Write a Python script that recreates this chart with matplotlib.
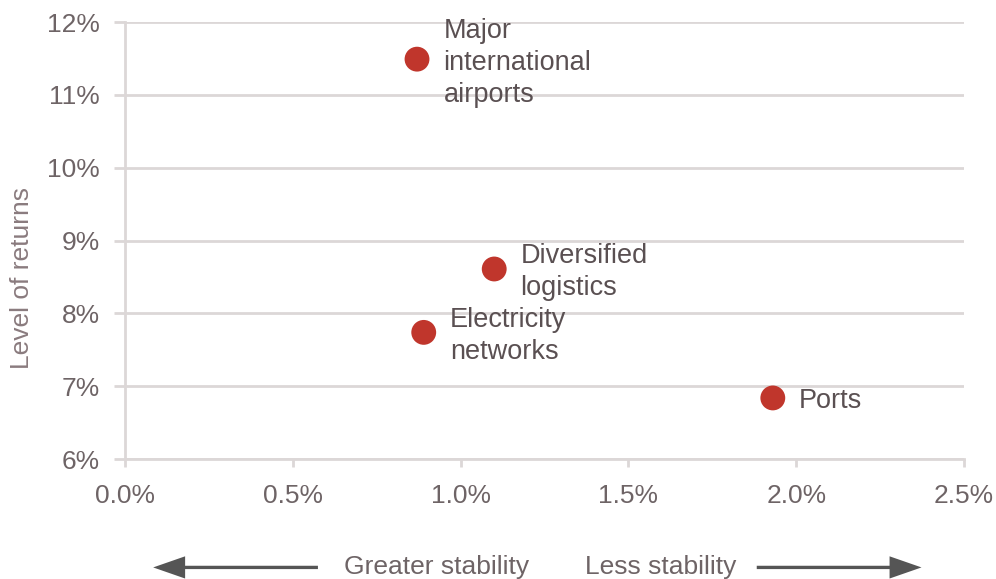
import matplotlib.pyplot as plt
from matplotlib.patches import FancyArrowPatch
from matplotlib.ticker import FuncFormatter

# Datos
sectores = ['Major\ninternational\nairports', 'Diversified\nlogistics', 'Electricity\nnetworks', 'Ports']
volatilidad = [0.87, 1.10, 0.89, 1.93]   # % (eje x)
retornos = [11.49, 8.61, 7.74, 6.84]     # % (eje y)

x_ticks = [0.0, 0.5, 1.0, 1.5, 2.0, 2.5]
y_ticks = [6, 7, 8, 9, 10, 11, 12]

plt.rcParams['font.family'] = ['Liberation Sans', 'DejaVu Sans']
color_texto = '#6e6466'
color_linea = '#dcd7d7'
color_punto = '#c0362c'

fig = plt.figure(figsize=(9.96, 5.79), dpi=100)
ax = fig.add_axes([0.1255, 0.207, 0.8425, 0.755])

ax.scatter(volatilidad, retornos, s=320, color=color_punto, zorder=3, edgecolors='none')

for nombre, x, y in zip(sectores, volatilidad, retornos):
    ax.annotate(nombre, (x, y), xytext=(19, -2.5), textcoords='offset points',
                ha='left', va='center', fontsize=19.5, color='#5a5052',
                linespacing=1.3, zorder=4)

ax.set_xlim(0, 2.5)
ax.set_ylim(6, 12)
ax.set_xticks(x_ticks)
ax.set_yticks(y_ticks)
ax.xaxis.set_major_formatter(FuncFormatter(lambda v, p: f'{v:.1f}%'))
ax.yaxis.set_major_formatter(FuncFormatter(lambda v, p: f'{v:.0f}%'))
ax.tick_params(axis='both', labelsize=19, labelcolor=color_texto, color=color_linea, width=2)
ax.tick_params(axis='y', length=8, pad=10)
ax.tick_params(axis='x', length=6, pad=12)

ax.grid(axis='y', color=color_linea, linewidth=2)
ax.set_axisbelow(True)
for lado in ['top', 'right']:
    ax.spines[lado].set_visible(False)
for lado in ['left', 'bottom']:
    ax.spines[lado].set_color(color_linea)
    ax.spines[lado].set_linewidth(2)

fig.text(0.022, 0.52, 'Level of returns', rotation=90, ha='center', va='center',
         fontsize=19, color='#8a7b7e')

# Flechas de estabilidad
fig.text(0.345, 0.02, 'Greater stability', ha='left', va='center', fontsize=19, color=color_texto)
fig.text(0.587, 0.02, 'Less stability', ha='left', va='center', fontsize=19, color=color_texto)
estilo = 'simple,head_length=1.15,head_width=0.8,tail_width=0.12'
fig.patches.append(FancyArrowPatch(
    (0.322, 0.02), (0.151, 0.02), transform=fig.transFigure, arrowstyle=estilo,
    mutation_scale=20, color='#555555', linewidth=0))
fig.patches.append(FancyArrowPatch(
    (0.757, 0.02), (0.928, 0.02), transform=fig.transFigure, arrowstyle=estilo,
    mutation_scale=20, color='#555555', linewidth=0))

plt.savefig('out.png', dpi=100)
